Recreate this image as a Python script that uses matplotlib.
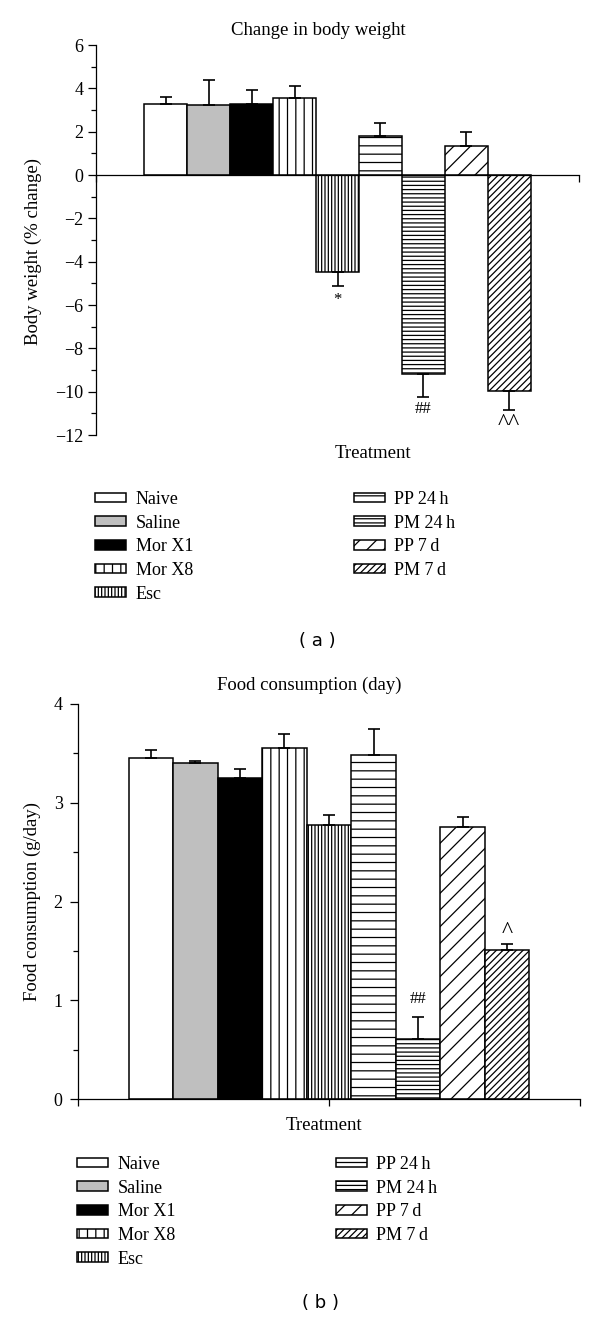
import numpy as np
import matplotlib
matplotlib.use('Agg')
import matplotlib.pyplot as plt

plt.rcParams['font.family'] = ['Liberation Serif', 'DejaVu Serif']
plt.rcParams['hatch.linewidth'] = 0.9

# --- data ---
groups = ['Naive', 'Saline', 'Mor X1', 'Mor X8', 'Esc',
          'PP 24\u2009h', 'PM 24\u2009h', 'PP 7\u2009d', 'PM 7\u2009d']
colors = ['white', '#bfbfbf', 'black', 'white', 'white',
          'white', 'white', 'white', 'white']
hatches = ['', '', '', '||', '|||||', '--', '----', '//', '/////']

weight_change = [3.28, 3.22, 3.26, 3.57, -4.46, 1.81, -9.18, 1.35, -9.95]
weight_err = [0.34, 1.18, 0.66, 0.52, 0.66, 0.57, 1.08, 0.65, 0.88]
weight_marks = {4: ('*', -5.75), 6: ('##', -10.8), 8: ('^^', -11.45)}

food = [3.45, 3.40, 3.25, 3.55, 2.77, 3.48, 0.61, 2.75, 1.51]
food_err = [0.08, 0.02, 0.09, 0.15, 0.11, 0.27, 0.225, 0.11, 0.06]
food_marks = {6: ('##', 1.01), 8: ('^', 1.70)}

x = np.arange(len(groups))

fig = plt.figure(figsize=(6, 13.21), dpi=100)


def draw_panel(ax, vals, errs, marks, ylim, yticks, minor, xlim, ylabel, title,
               title_pos, xlabel_pos, zero_spine):
    bars = ax.bar(x, vals, width=1.0, color=colors, edgecolor='black',
                  linewidth=1.1, zorder=2)
    for b, h in zip(bars, hatches):
        b.set_hatch(h)
    vals = np.array(vals)
    errs = np.array(errs)
    lower = np.where(vals < 0, errs, 0)
    upper = np.where(vals >= 0, errs, 0)
    ax.errorbar(x, vals, yerr=[lower, upper], fmt='none', ecolor='black',
                elinewidth=1.2, capsize=4, capthick=1.2, zorder=3)
    for i, (txt, yy) in marks.items():
        fs = 17 if '^' in txt else 12
        ax.text(x[i], yy, txt, ha='center', va='center', fontsize=fs)

    ax.set_xlim(*xlim)
    ax.set_ylim(*ylim)
    ax.set_yticks(yticks)
    ax.set_yticks(minor, minor=True)
    ax.set_xticks([xlim[0], 4, xlim[1]])
    ax.set_xticklabels([])
    ax.spines['top'].set_visible(False)
    ax.spines['right'].set_visible(False)
    if zero_spine:
        ax.spines['bottom'].set_position(('data', 0))
    for s in ax.spines.values():
        s.set_linewidth(0.9)
    ax.tick_params(axis='y', which='major', length=6, width=0.9, labelsize=13, pad=3)
    ax.tick_params(axis='y', which='minor', length=3.8, width=0.9)
    ax.tick_params(axis='x', which='major', length=5, width=0.9)
    ax.set_ylabel(ylabel, fontsize=13.5)
    ax.set_xlabel('Treatment', fontsize=13.5)
    ax.xaxis.set_label_coords(*xlabel_pos)
    ax.set_title(title, fontsize=13.5, x=title_pos[0], y=title_pos[1],
                 va='center', pad=0)
    return bars


legend_kw = dict(loc='upper left', ncol=2, frameon=False, fontsize=13,
                 handlelength=1.7, handleheight=0.45, handletextpad=0.55,
                 labelspacing=0.37, columnspacing=8.9, borderpad=0,
                 borderaxespad=0)

# --- panel (a) ---
ax1 = fig.add_axes([96 / 600, 1 - 435 / 1321, 483 / 600, 390 / 1321])
bars1 = draw_panel(ax1, weight_change, weight_err, weight_marks,
                   (-12, 6), np.arange(-12, 7, 2), np.arange(-11, 6, 2),
                   (-1.63, 9.63), 'Body weight (% change)',
                   'Change in body weight', (0.46, 1.036), (0.574, -0.025), True)
ax1.yaxis.set_label_coords(-0.112, 0.47)
fig.legend(bars1, groups, bbox_to_anchor=(95 / 600, 1 - 491 / 1321), **legend_kw)
fig.text(317 / 600, 1 - 641 / 1321, '( a )', family='DejaVu Sans', fontsize=13,
         ha='center', va='center')

# --- panel (b) ---
ax2 = fig.add_axes([78 / 600, 1 - 1099 / 1321, 502 / 600, 395 / 1321])
bars2 = draw_panel(ax2, food, food_err, food_marks,
                   (0, 4), np.arange(0, 5, 1), np.arange(0.5, 4, 1),
                   (-1.64, 9.64), 'Food consumption (g/day)',
                   'Food consumption (day)', (0.46, 1.046), (0.49, -0.045), False)
ax2.tick_params(axis='y', which='major', pad=5)
ax2.yaxis.set_label_coords(-0.073, 0.5)
fig.legend(bars2, groups, bbox_to_anchor=(77 / 600, 1 - 1156 / 1321), **legend_kw)
fig.text(321 / 600, 1 - 1303 / 1321, '( b )', family='DejaVu Sans', fontsize=13,
         ha='center', va='center')

fig.savefig('out.png', dpi=100)
